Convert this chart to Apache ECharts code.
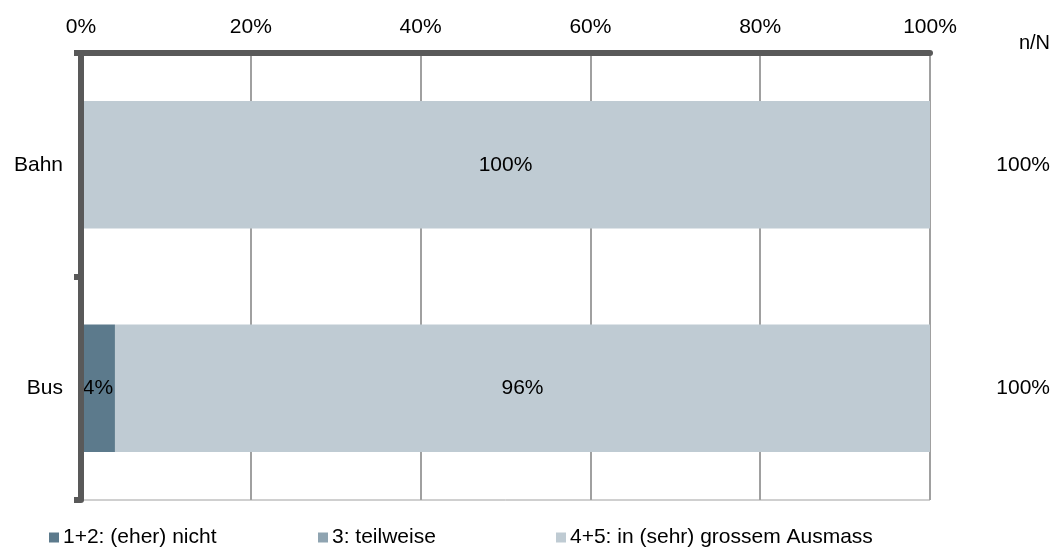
<!DOCTYPE html>
<html>
<head>
<meta charset="utf-8">
<script src="https://cdn.jsdelivr.net/npm/echarts@6/dist/echarts.min.js"></script>
<style>
  html, body { margin: 0; padding: 0; background: #fff; }
  #chart { width: 1055px; height: 551px; }
</style>
</head>
<body>
<div id="chart"></div>
<script>
// Kategorien und Werte (Prozent)
const categories = ['Bahn', 'Bus']
const eherNicht = [0, 4]
const teilweise = [0, 0]
const grossesAusmass = [100, 96]
const nN = ['100%', '100%']
const xTicks = [0, 20, 40, 60, 80, 100]

const seriesNames = ['1+2: (eher) nicht', '3: teilweise', '4+5: in (sehr) grossem Ausmass']
const colors = ['#5c7a8c', '#8fa4b1', '#bfcbd3']
const font = 'Liberation Sans, Arial, sans-serif'
const fs = 21

const chart = echarts.init(document.getElementById('chart'))

function barSeries (name, data, color) {
  return {
    name: name,
    type: 'bar',
    stack: 'total',
    barWidth: '57%',
    itemStyle: { color: color },
    label: {
      show: true,
      position: 'inside',
      color: '#000',
      fontFamily: font,
      fontSize: fs,
      formatter: p => (p.value > 0 ? p.value + '%' : '')
    },
    data: data
  }
}

const legendLeft = [49, 318, 556]

chart.setOption({
  animation: false,
  textStyle: { fontFamily: font },
  grid: {
    left: 81,
    right: 125,
    top: 53,
    bottom: 51,
    show: true,
    borderColor: '#a0a0a0',
    borderWidth: 1
  },
  legend: seriesNames.map((n, i) => ({
    data: [n],
    left: legendLeft[i],
    top: 527,
    padding: 0,
    icon: 'rect',
    itemWidth: 10,
    itemHeight: 10,
    itemGap: 0,
    textStyle: { fontFamily: font, fontSize: 21, color: '#000', padding: [0, 0, 0, -1] }
  })),
  xAxis: {
    type: 'value',
    position: 'top',
    min: xTicks[0],
    max: xTicks[xTicks.length - 1],
    interval: 20,
    axisLine: { show: true, lineStyle: { color: '#595959', width: 6 } },
    axisTick: { show: false },
    axisLabel: { color: '#000', fontSize: fs, margin: 15, formatter: '{value}%' },
    splitLine: { show: true, lineStyle: { color: '#a0a0a0', width: 2 } }
  },
  yAxis: [
    {
      type: 'category',
      inverse: true,
      z: 5,
      data: categories,
      axisLine: { show: true, lineStyle: { color: '#595959', width: 6 } },
      axisTick: { show: true, length: 7, lineStyle: { color: '#595959', width: 6 } },
      axisLabel: { color: '#000', fontSize: fs, margin: 18 }
    },
    {
      // n/N Spalte rechts
      type: 'category',
      inverse: true,
      position: 'right',
      data: categories,
      axisLine: { show: false },
      axisTick: { show: false },
      axisLabel: {
        color: '#000',
        fontSize: fs,
        align: 'right',
        margin: 120,
        formatter: (v, i) => nN[i]
      }
    }
  ],
  graphic: [
    {
      type: 'text',
      right: 5,
      top: 33,
      style: { text: 'n/N', fill: '#000', font: (fs - 1) + 'px ' + font }
    }
  ],
  series: [
    barSeries(seriesNames[0], eherNicht, colors[0]),
    barSeries(seriesNames[1], teilweise, colors[1]),
    barSeries(seriesNames[2], grossesAusmass, colors[2])
  ]
})
</script>
</body>
</html>
